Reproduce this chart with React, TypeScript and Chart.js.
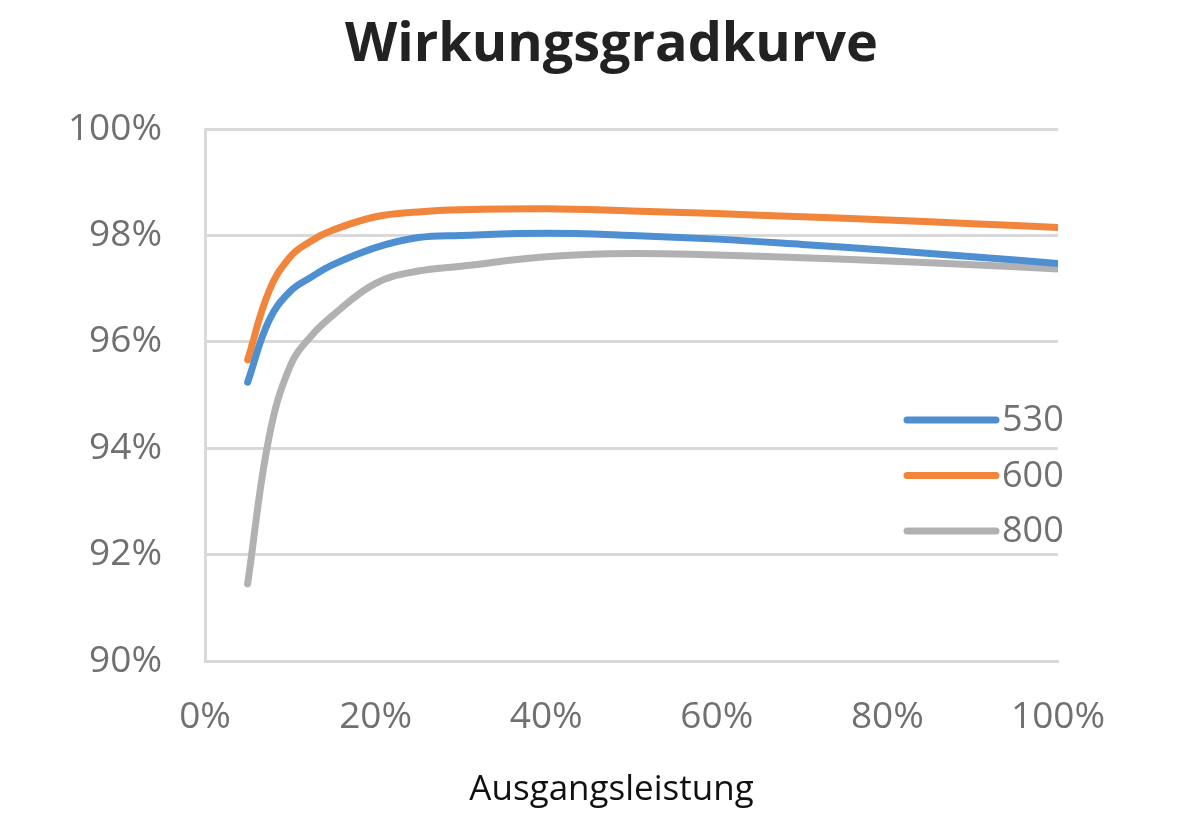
import React, { useEffect, useRef } from 'react';
import { Chart, ChartConfiguration, Plugin } from 'chart.js/auto';

const chartTitle = 'Wirkungsgradkurve';
const xAxisTitle = 'Ausgangsleistung';

// output power in % of rated power
const loads = [5, 7.5, 10, 12.5, 15, 20, 25, 30, 40, 50, 60, 70, 80, 90, 100];

const seriesLabels = ['530', '600', '800'];
const eff530 = [95.24, 96.4, 96.95, 97.22, 97.45, 97.77, 97.96, 98.0, 98.04, 98.0, 97.93, 97.83, 97.72, 97.6, 97.47];
const eff600 = [95.66, 96.95, 97.6, 97.9, 98.1, 98.35, 98.44, 98.48, 98.5, 98.46, 98.41, 98.35, 98.29, 98.22, 98.15];
const eff800 = [91.45, 94.2, 95.55, 96.12, 96.5, 97.1, 97.33, 97.42, 97.6, 97.66, 97.63, 97.58, 97.52, 97.45, 97.37];
const seriesColors = ['#4d8fd1', '#f0853b', '#b1b1b4'];

const FONT = '"Open Sans", "Noto Sans", sans-serif';
const GREY_TEXT = '#707070';
const GRID = '#d9d9d9';

// main title, x axis title and an in-plot legend
const textPlugin: Plugin = {
  id: 'texts',
  afterDraw(chart) {
    const { ctx, chartArea } = chart;
    const cx = chart.width / 2 + 17;
    ctx.save();
    ctx.textAlign = 'center';
    ctx.textBaseline = 'middle';
    ctx.fillStyle = '#222222';
    ctx.font = `bold 54px ${FONT}`;
    ctx.fillText(chartTitle, cx, 46);
    ctx.fillStyle = '#111111';
    ctx.font = `35px ${FONT}`;
    ctx.fillText(xAxisTitle, cx, 790);

    ctx.textAlign = 'left';
    ctx.font = `36px ${FONT}`;
    chart.data.datasets.forEach((ds, i) => {
      const y = chartArea.top + 291 + i * 55.5;
      ctx.strokeStyle = ds.borderColor as string;
      ctx.lineWidth = 7;
      ctx.lineCap = 'round';
      ctx.beginPath();
      ctx.moveTo(chartArea.right - 151, y);
      ctx.lineTo(chartArea.right - 62, y);
      ctx.stroke();
      ctx.fillStyle = GREY_TEXT;
      ctx.fillText(ds.label as string, chartArea.right - 56, y + 1);
    });
    ctx.restore();
  },
};

const App: React.FC = () => {
  const canvasRef = useRef<HTMLCanvasElement | null>(null);
  const chartRef = useRef<Chart | null>(null);

  useEffect(() => {
    if (!canvasRef.current) return;
    const series = [eff530, eff600, eff800];

    const config: ChartConfiguration = {
      type: 'line',
      data: {
        datasets: series.map((vals, i) => ({
          label: seriesLabels[i],
          data: loads.map((x, j) => ({ x, y: vals[j] })),
          borderColor: seriesColors[i],
          backgroundColor: seriesColors[i],
          borderWidth: 7,
          borderCapStyle: 'round',
          borderJoinStyle: 'round',
          pointRadius: 0,
          tension: 0.4,
          fill: false,
        })),
      },
      options: {
        animation: false,
        responsive: true,
        maintainAspectRatio: false,
        layout: { padding: { top: 129, right: 131, left: 0, bottom: 0 } },
        plugins: {
          legend: { display: false },
          title: { display: false },
          tooltip: { enabled: false },
        },
        scales: {
          x: {
            type: 'linear',
            min: 0,
            max: 100,
            afterFit: (s) => { s.height = 175; },
            ticks: {
              stepSize: 20,
              padding: 34,
              color: GREY_TEXT,
              font: { family: FONT, size: 37 },
              callback: (v) => `${v}%`,
            },
            grid: { display: false, drawTicks: false },
            border: { color: GRID, width: 3 },
          },
          y: {
            min: 90,
            max: 100,
            afterFit: (s) => { s.width = 205; },
            ticks: {
              stepSize: 2,
              padding: 43,
              color: GREY_TEXT,
              font: { family: FONT, size: 37 },
              callback: (v) => `${v}%`,
            },
            grid: { color: GRID, lineWidth: 3, drawTicks: false },
            border: { color: GRID, width: 3 },
          },
        },
      },
      plugins: [textPlugin],
    };

    chartRef.current = new Chart(canvasRef.current, config);
    return () => {
      chartRef.current?.destroy();
      chartRef.current = null;
    };
  }, []);

  return (
    <div style={{ position: 'absolute', left: 0, top: 0, width: 1189, height: 836, background: '#ffffff' }}>
      <canvas ref={canvasRef} />
    </div>
  );
};

export default App;
